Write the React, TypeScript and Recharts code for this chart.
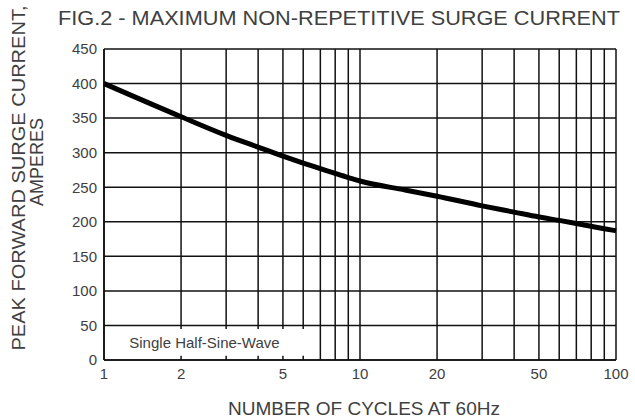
import React from 'react'
import {
  LineChart,
  Line,
  XAxis,
  YAxis,
  CartesianGrid,
  ReferenceArea,
} from 'recharts'

// cycles at 60Hz (log axis) and peak surge current in amperes
const cycles = [1, 2, 3, 4, 5, 6, 7, 8, 9, 10, 15, 20, 30, 40, 50, 60, 70, 80, 90, 100]
const amperes = [400, 352, 325, 308, 295, 285, 277, 270, 264, 259, 246, 237, 223, 214, 207, 202, 197.5, 193.5, 190, 187]

const xGridTicks = [1, 2, 3, 4, 5, 6, 7, 8, 9, 10, 20, 30, 40, 50, 60, 70, 80, 90, 100]
const xLabelTicks = [1, 2, 5, 10, 20, 50, 100]
const yTicks = [0, 50, 100, 150, 200, 250, 300, 350, 400, 450]

const data = cycles.map((c, i) => ({ cycles: c, amps: amperes[i] }))

const FONT = '"Liberation Sans", Arial, sans-serif'
const TEXT = '#404040'

export default function App() {
  return (
    <div style={{ position: 'absolute', left: 0, top: 0, width: 635, height: 419, background: '#fff' }}>
      <LineChart
        width={635}
        height={419}
        data={data}
        margin={{ top: 49, right: 19, bottom: 0, left: 0 }}
      >
        <CartesianGrid stroke="#111" strokeWidth={1.5} />
        <XAxis
          dataKey="cycles"
          type="number"
          scale="log"
          domain={[1, 100]}
          ticks={xGridTicks}
          interval={0}
          height={59}
          tickFormatter={(v: number) => (xLabelTicks.includes(v) ? String(v) : '')}
          tick={{ fontSize: 15, fill: TEXT, fontFamily: FONT }}
          axisLine={{ stroke: '#111', strokeWidth: 1.6 }}
          tickLine={false}
        />
        <YAxis
          type="number"
          domain={[0, 450]}
          ticks={yTicks}
          interval={0}
          width={104}
          tick={{ fontSize: 15, fill: TEXT, fontFamily: FONT }}
          tickMargin={1}
          axisLine={{ stroke: '#111', strokeWidth: 1.6 }}
          tickLine={false}
        />
        <ReferenceArea
          x1={1.03}
          x2={6.5}
          y1={6}
          y2={45}
          fill="#fff"
          fillOpacity={1}
          stroke="none"
          label={{
            value: 'Single Half-Sine-Wave',
            position: 'insideLeft',
            offset: 22,
            fontSize: 15,
            fill: TEXT,
            fontFamily: FONT,
          }}
        />
        <Line
          dataKey="amps"
          type="monotone"
          stroke="#000"
          strokeWidth={5}
          dot={false}
          isAnimationActive={false}
        />
      </LineChart>
      <svg
        width={635}
        height={419}
        style={{ position: 'absolute', left: 0, top: 0, pointerEvents: 'none' }}
        fontFamily={FONT}
        fill={TEXT}
      >
        <text x={58} y={25} fontSize={20} textLength={562} lengthAdjust="spacingAndGlyphs">
          FIG.2 - MAXIMUM NON-REPETITIVE SURGE CURRENT
        </text>
        <text x={364} y={415} fontSize={19} textAnchor="middle" textLength={272} lengthAdjust="spacingAndGlyphs">
          NUMBER OF CYCLES AT 60Hz
        </text>
        <text
          x={0}
          y={0}
          fontSize={19}
          textAnchor="middle"
          transform="translate(25,178) rotate(-90)"
          textLength={345}
          lengthAdjust="spacingAndGlyphs"
        >
          PEAK FORWARD SURGE CURRENT,
        </text>
        <text x={0} y={0} fontSize={18} textAnchor="middle" transform="translate(43,162) rotate(-90)">
          AMPERES
        </text>
      </svg>
    </div>
  )
}
